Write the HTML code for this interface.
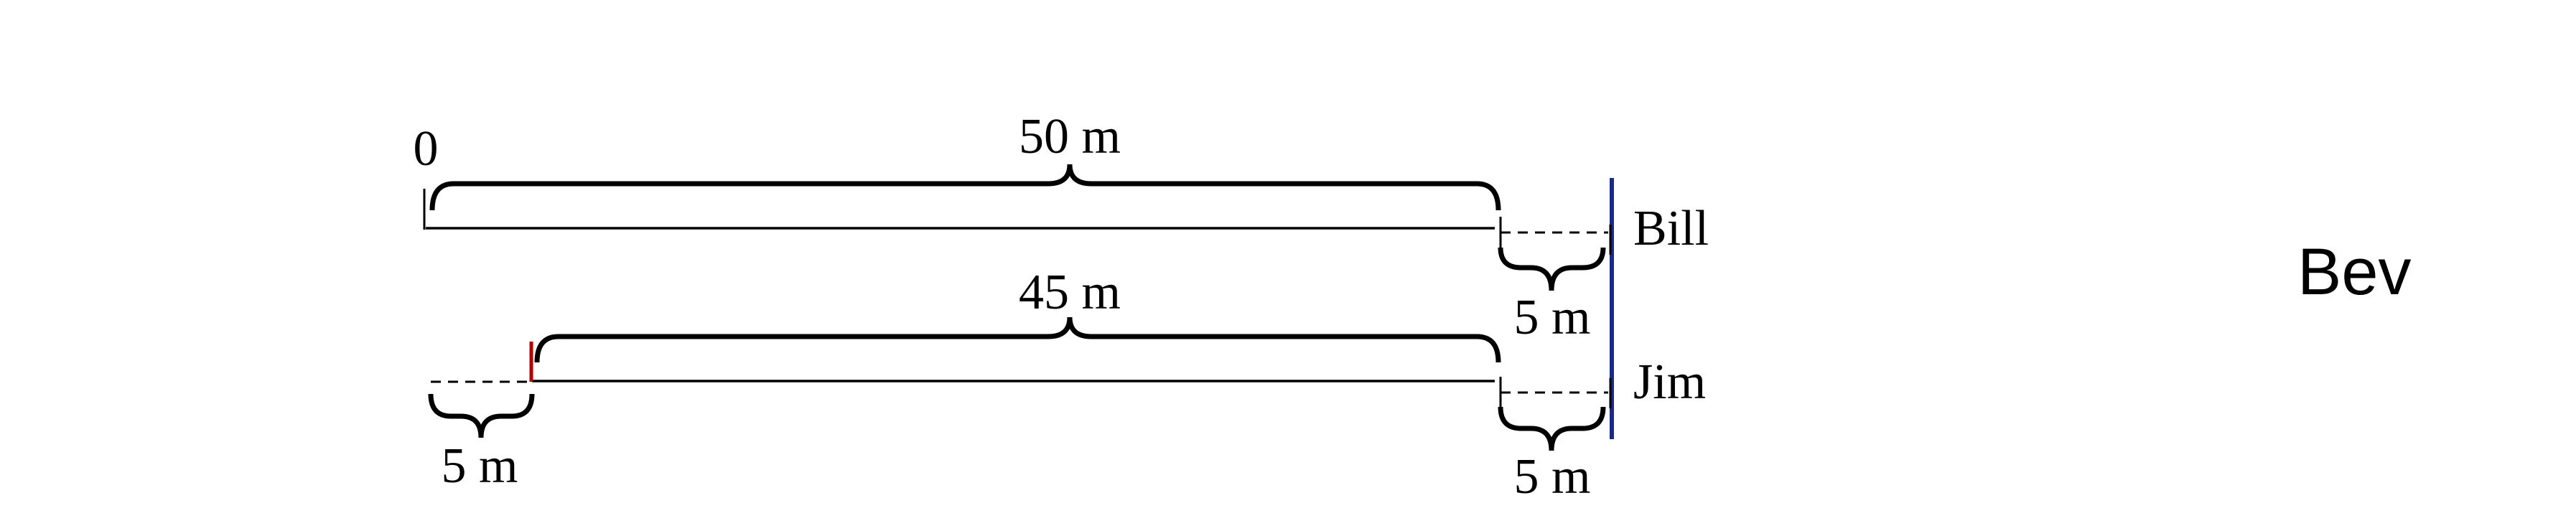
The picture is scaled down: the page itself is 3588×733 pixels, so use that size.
<!DOCTYPE html>
<html><head><meta charset="utf-8"><style>
html,body{margin:0;padding:0;background:#fff;}
svg{display:block;}
.serif{font-family:"Liberation Serif",serif;fill:#000;}
</style></head>
<body>
<svg width="3588" height="733" viewBox="0 0 3588 733">
<g id="marks"></g>
<text class="serif" x="593" y="230" font-size="70" text-anchor="middle">0</text>
<text class="serif" x="1490" y="213" font-size="70" text-anchor="middle">50 m</text>
<text class="serif" x="1490" y="430" font-size="70" text-anchor="middle">45 m</text>
<text class="serif" x="2275" y="341" font-size="70">Bill</text>
<text class="serif" x="2275" y="555" font-size="70">Jim</text>
<text class="serif" x="2162" y="465" font-size="70" text-anchor="middle">5 m</text>
<text class="serif" x="2162" y="687" font-size="70" text-anchor="middle">5 m</text>
<text class="serif" x="668" y="672" font-size="70" text-anchor="middle">5 m</text>
<text x="3200" y="410" font-size="92" font-family="Liberation Sans, sans-serif">Bev</text>
</svg>
<script>
const braceSpans = [[602, 2087, 293, 256, 229, 1490], [748, 2087, 505, 469, 442, 1490], [2090, 2233, 345, 373, 405, 2161], [2090, 2233, 567, 597, 628, 2161], [600, 741, 549, 580, 610, 670]];
const braceNames = ['bill-50m-brace', 'jim-45m-brace', 'bill-5m-brace', 'jim-5m-brace', 'jim-start-5m-brace'];
const NS = 'http://www.w3.org/2000/svg';
const g = document.getElementById('marks');
function mk(tag, attrs) { const e = document.createElementNS(NS, tag); for (const k in attrs) e.setAttribute(k, attrs[k]); g.appendChild(e); return e; }
function brace(x1, x2, ye, yl, yt, xm) {
  const r = Math.min(30, (x2 - x1) / 5);
  return `M${x1} ${ye} Q${x1} ${yl} ${x1 + r} ${yl} L${xm - r} ${yl} Q${xm} ${yl} ${xm} ${yt} Q${xm} ${yl} ${xm + r} ${yl} L${x2 - r} ${yl} Q${x2} ${yl} ${x2} ${ye}`;
}
braceSpans.forEach((b, i) => {
  const p = mk('path', {d: brace(b[0], b[1], b[2], b[3], b[4], b[5]), fill: 'none', stroke: '#000', 'stroke-width': 7});
  
  
});
let e;
e = mk('line', {x1: 593, y1: 318, x2: 2082, y2: 318, stroke: '#000', 'stroke-width': 3.5});


e = mk('line', {x1: 591, y1: 263, x2: 591, y2: 320, stroke: '#000', 'stroke-width': 3});


e = mk('line', {x1: 2090, y1: 324, x2: 2240, y2: 324, stroke: '#000', 'stroke-width': 3, 'stroke-dasharray': '14 10'});


e = mk('line', {x1: 2090, y1: 302, x2: 2090, y2: 345, stroke: '#000', 'stroke-width': 3});


e = mk('line', {x1: 741, y1: 531, x2: 2082, y2: 531, stroke: '#000', 'stroke-width': 3.5});


e = mk('line', {x1: 600, y1: 532, x2: 735, y2: 532, stroke: '#000', 'stroke-width': 3, 'stroke-dasharray': '14 10'});


e = mk('line', {x1: 740, y1: 476, x2: 740, y2: 532, stroke: '#b00000', 'stroke-width': 5});


e = mk('line', {x1: 2090, y1: 547, x2: 2240, y2: 547, stroke: '#000', 'stroke-width': 3, 'stroke-dasharray': '14 10'});


e = mk('line', {x1: 2090, y1: 525, x2: 2090, y2: 567, stroke: '#000', 'stroke-width': 3});


e = mk('line', {x1: 2245, y1: 248, x2: 2245, y2: 612, stroke: '#1a2a8a', 'stroke-width': 6});


e = mk('line', {x1: 2243, y1: 313, x2: 2243, y2: 355, stroke: '#000', 'stroke-width': 3});


e = mk('line', {x1: 2243, y1: 527, x2: 2243, y2: 569, stroke: '#000', 'stroke-width': 3});


</script>
</body></html>
